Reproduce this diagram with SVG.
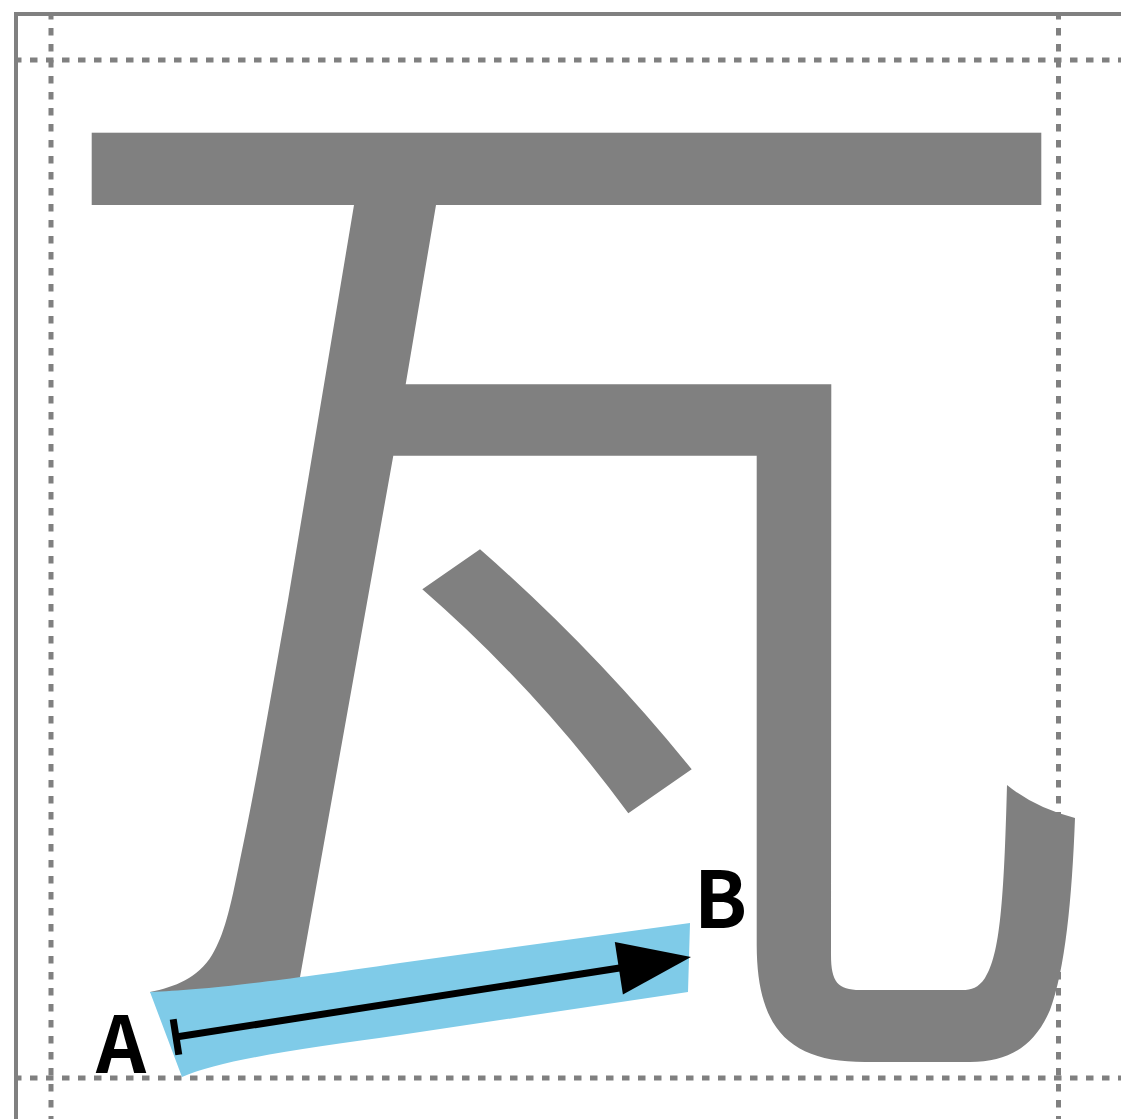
<svg xmlns="http://www.w3.org/2000/svg" width="1121" height="1119" viewBox="0 0 1121 1119">
  <style>
    .frame { stroke: #808080; stroke-width: 4; fill: none; }
    .guide { stroke: #808080; stroke-width: 5; fill: none; stroke-dasharray: 7.5 8.5; }
    .glyph { fill: #808080; }
    .hl { fill: #7FCBE8; }
    .lbl { font-family: "Noto Sans CJK JP", "Noto Sans", sans-serif; font-weight: bold; font-size: 78px; fill: #000; }
  </style>
  <rect width="1121" height="1119" fill="#ffffff"/>
  <g id="frame">
    <line class="frame" x1="16" y1="12" x2="16" y2="1119"/>
    <line class="frame" x1="14" y1="14" x2="1121" y2="14"/>
  </g>
  <g id="guides">
    <line class="guide" x1="51" y1="12" x2="51" y2="1119"/>
    <line class="guide" x1="1058.5" y1="12" x2="1058.5" y2="1119"/>
    <line class="guide" x1="14" y1="60" x2="1121" y2="60"/>
    <line class="guide" x1="14" y1="1078" x2="1121" y2="1078"/>
  </g>
  <g id="glyph">
    <rect class="glyph" x="91.7" y="132.7" width="949.6" height="72.3"/>
    <path class="glyph" d="M 355.7 195 L 354 205 L 288 600 C 272 690 255 790 240 860 C 230 910 224 935 212 955 C 198 978 175 987 150 992 L 160 1000 L 297.7 990 L 393.3 455.7 L 756.7 455.7 L 756.7 945 C 757 1030 790 1062 865 1062 L 970 1062 C 1010 1062 1035 1045 1050 1010 C 1065 970 1072 900 1075 818 Q 1035 808 1007 785 C 1004 900 1000 955 985 978 C 978 988 972 990 962 990 L 860 990 C 838 990 831 982 831 955 L 831.3 384.3 L 405.7 384.3 L 437.7 195 Z"/>
    <path class="glyph" d="M 480 549.3 Q 595 650 691.7 769.3 L 628.3 813.3 Q 537.5 689.5 422.3 589.3 Z"/>
  </g>
  <g id="highlight">
    <path class="hl" d="M 150 992 C 200 990 250 985 400 963 L 690 923 L 688 992 L 400 1035 C 300 1049 220 1060 182 1077 Z"/>
  </g>
  <g id="connectors">
    <line x1="176" y1="1037" x2="626" y2="967" stroke="#000" stroke-width="7"/>
    <line x1="173.2" y1="1019.2" x2="178.8" y2="1054.8" stroke="#000" stroke-width="7"/>
    <polygon points="691,957 614.8,942 622.9,994.4" fill="#000"/>
  </g>
  <g id="label-a">
    <text class="lbl" x="96" y="1073">A</text>
  </g>
  <g id="label-b">
    <text class="lbl" x="694" y="928">B</text>
  </g>
</svg>
